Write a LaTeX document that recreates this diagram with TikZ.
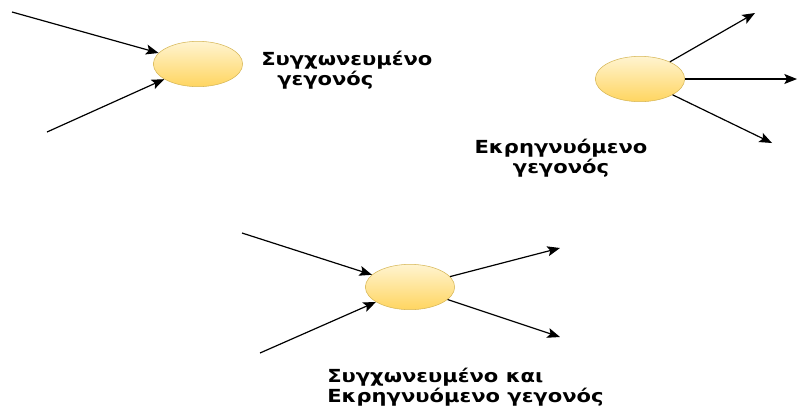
\documentclass[tikz,border=0pt]{standalone}
\usepackage{fontspec}
\setmainfont{DejaVu Sans}
\newfontfamily\eventfont[FakeStretch=1.17]{DejaVu Sans Bold}
\usetikzlibrary{arrows.meta,shapes.geometric}

\definecolor{evtop}{HTML}{FFF4D0}
\definecolor{evbot}{HTML}{FFD560}
\definecolor{evline}{HTML}{D6B656}

\begin{document}
\begin{tikzpicture}[x=0.75pt, y=-0.75pt,
  event/.style={ellipse, draw=evline, top color=evtop, bottom color=evbot, minimum width=67pt, minimum height=34pt, inner sep=0pt},
  arr/.style={-{Stealth[length=9.5pt, width=7.5pt, inset=2pt]}, line width=0.9pt},
  lbl/.style={font=\eventfont\fontsize{13.5}{15}\selectfont, inner sep=0pt}
]
\useasboundingbox (0,0) rectangle (798,408);

% merge event
\node[event] (merge) at (198,64) {};
\coordinate (m-in1) at (12,12);
\coordinate (m-in2) at (47,132);
\draw[arr] (m-in1) -- (merge);
\draw[arr] (m-in2) -- (merge);
\node[lbl, anchor=west, align=left] (merge-txt) at (261,70) {Συγχωνευμένο\\\hspace*{12pt}γεγονός};

% burst event
\node[event] (burst) at (640,79) {};
\coordinate (b-out1) at (755,13);
\coordinate (b-out2) at (797,79);
\coordinate (b-out3) at (772,143);
\draw[arr] (burst) -- (b-out1);
\draw[arr] (burst) -- (b-out2);
\draw[arr] (burst) -- (b-out3);
\node[lbl, align=center] (burst-txt) at (561,158) {Εκρηγνυόμενο\\γεγονός};

% merge and burst event
\node[event] (both) at (410,287) {};
\coordinate (x-in1) at (242,233);
\coordinate (x-in2) at (260,353);
\coordinate (x-out1) at (560,248);
\coordinate (x-out2) at (560,337);
\draw[arr] (x-in1) -- (both);
\draw[arr] (x-in2) -- (both);
\draw[arr] (both) -- (x-out1);
\draw[arr] (both) -- (x-out2);
\node[lbl, anchor=west, align=left] (both-txt) at (327,387) {Συγχωνευμένο και\\Εκρηγνυόμενο γεγονός};
\end{tikzpicture}
\end{document}
